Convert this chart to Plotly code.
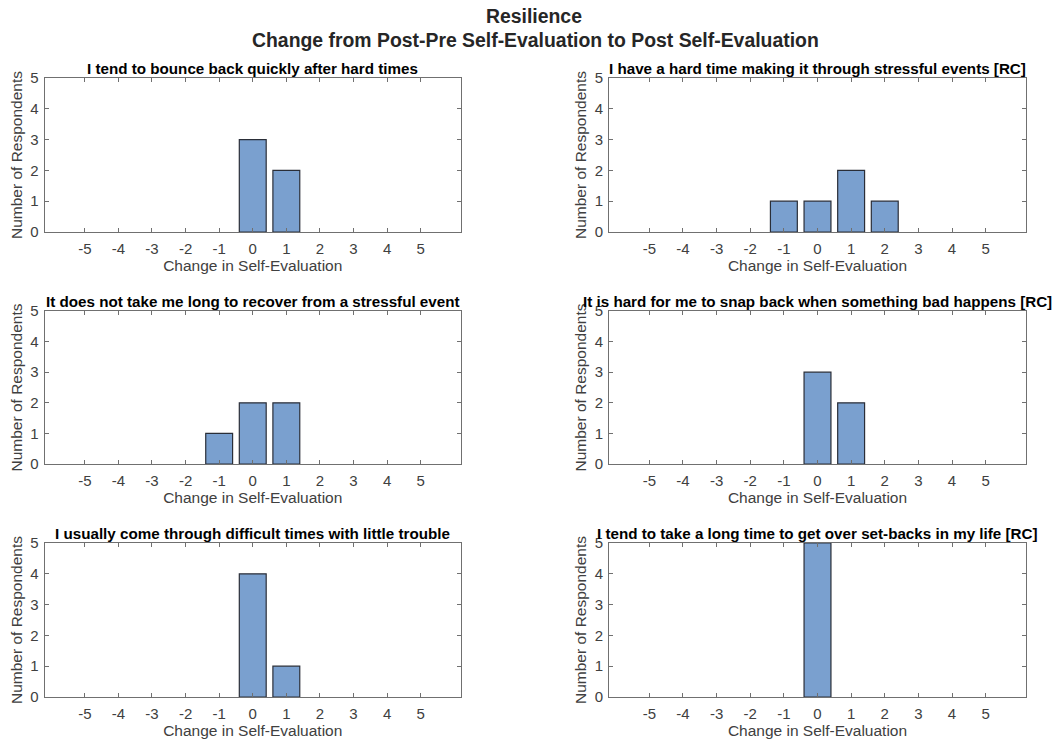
import plotly.graph_objects as go

changes = [-5, -4, -3, -2, -1, 0, 1, 2, 3, 4, 5]
tick_labels = ["-5", "-4", "-3", "-2", "-1", "0", "1", "2", "3", "4", "5"]

titles = [
    "I tend to bounce back quickly after hard times",
    "I have a hard time making it through stressful events [RC]",
    "It does not take me long to recover from a stressful event",
    "It is hard for me to snap back when something bad happens [RC]",
    "I usually come through difficult times with little trouble",
    "I tend to take a long time to get over set-backs in my life [RC]",
]

counts_q1 = [0, 0, 0, 0, 0, 3, 2, 0, 0, 0, 0]
counts_q2 = [0, 0, 0, 0, 1, 1, 2, 1, 0, 0, 0]
counts_q3 = [0, 0, 0, 0, 1, 2, 2, 0, 0, 0, 0]
counts_q4 = [0, 0, 0, 0, 0, 3, 2, 0, 0, 0, 0]
counts_q5 = [0, 0, 0, 0, 0, 4, 1, 0, 0, 0, 0]
counts_q6 = [0, 0, 0, 0, 0, 5, 0, 0, 0, 0, 0]
all_counts = [counts_q1, counts_q2, counts_q3, counts_q4, counts_q5, counts_q6]

main_title_1 = "Resilience"
main_title_2 = "Change from Post-Pre Self-Evaluation to Post Self-Evaluation"
x_label = "Change in Self-Evaluation"
y_label = "Number of Respondents"

# page body margin offset (browser default 8px)
OFF = 8
W, H = 1062 - OFF, 743 - OFF
col_px = [(44.5, 461), (609, 1026)]
row_px = [(78, 232), (311, 464), (543, 697)]

FONT = "Liberation Sans, Arial, Helvetica, sans-serif"
AX = "#707070"
TXT = "#404040"
BAR = "rgb(122,160,207)"

fig = go.Figure()
layout = dict(
    width=W, height=H,
    margin=dict(l=0, r=0, t=0, b=0, autoexpand=False),
    paper_bgcolor="white", plot_bgcolor="white",
    showlegend=False,
    font=dict(family=FONT, size=15, color=TXT),
)
annotations = []
for i, (title, counts) in enumerate(zip(titles, all_counts)):
    r, c = divmod(i, 2)
    n = i + 1
    xs = "x" if n == 1 else f"x{n}"
    ys = "y" if n == 1 else f"y{n}"
    fig.add_trace(go.Bar(
        x=changes, y=counts, xaxis=xs, yaxis=ys, width=0.8,
        marker=dict(color=BAR,
                    line=dict(color="#2a2e38", width=[1.2 if v > 0 else 0 for v in counts])),
        hoverinfo="x+y",
    ))
    x0, x1 = col_px[c]
    t, b = row_px[r]
    xd = [(x0 - OFF) / W, (x1 - OFF) / W]
    yd = [1 - (b - OFF) / H, 1 - (t - OFF) / H]
    common = dict(
        showline=True, linecolor=AX, linewidth=1, mirror="allticks",
        ticks="inside", ticklen=4, tickcolor=AX, showgrid=False, zeroline=False,
        automargin=False,
        tickfont=dict(family=FONT, size=15, color=TXT),
    )
    layout["xaxis" if n == 1 else f"xaxis{n}"] = dict(
        domain=xd, anchor=ys, range=[-6.2, 6.2],
        tickmode="array", tickvals=changes, ticktext=tick_labels,
        ticklabelstandoff=3,
        title=dict(text=x_label, standoff=2, font=dict(family=FONT, size=15.5, color=TXT)),
        **common,
    )
    layout["yaxis" if n == 1 else f"yaxis{n}"] = dict(
        domain=yd, anchor=xs, range=[0, 5], dtick=1,
        ticklabelstandoff=2,
        title=dict(text=y_label, standoff=4, font=dict(family=FONT, size=15.5, color=TXT)),
        **common,
    )
    annotations.append(dict(
        text=f"<b>{title}</b>", xref="paper", yref="paper",
        x=(xd[0] + xd[1]) / 2, y=yd[1], xanchor="center", yanchor="bottom",
        yshift=-1, showarrow=False, font=dict(family=FONT, size=15.2, color="black"),
    ))

annotations.append(dict(text=f"<b>{main_title_1}</b>", xref="paper", yref="paper",
                        x=(534 - OFF) / W, y=1 - (16 - OFF) / H, xanchor="center", yanchor="middle",
                        showarrow=False, font=dict(family=FONT, size=19.4, color="#262626")))
annotations.append(dict(text=f"<b>{main_title_2}</b>", xref="paper", yref="paper",
                        x=(535 - OFF) / W, y=1 - (40 - OFF) / H, xanchor="center", yanchor="middle",
                        showarrow=False, font=dict(family=FONT, size=19.4, color="#262626")))
layout["annotations"] = annotations
fig.update_layout(**layout)
fig.write_html("out.html")
